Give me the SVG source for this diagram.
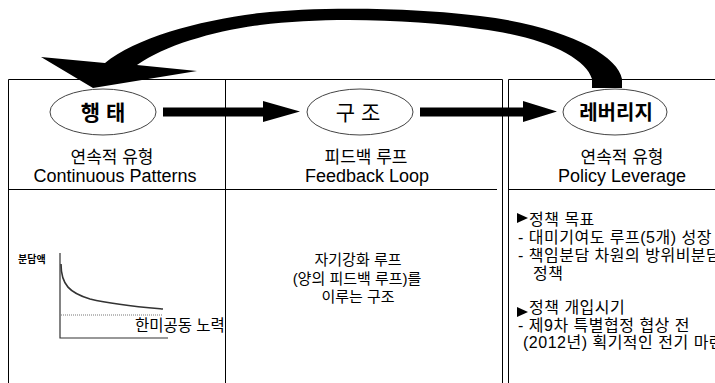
<svg xmlns="http://www.w3.org/2000/svg" width="715" height="383" viewBox="0 0 715 383">
<style>
  .ln { stroke: #000; stroke-width: 1; fill: none; }
  .ell { fill: #fff; stroke: #444; stroke-width: 1; }
  .t { font-family: "Liberation Sans", "Noto Sans CJK KR", sans-serif; fill: #000; }
  .c { text-anchor: middle; }
  .ko { font-size: 17px; }
  .en { font-size: 18px; }
  .body { font-size: 15px; }
  .pol { font-size: 16px; letter-spacing: 0.5px; }
  .node { font-size: 21px; }
  .b { font-weight: bold; }
  .arrow { fill: #000; stroke: none; }
</style>
<rect width="715" height="383" fill="#fff"/>

<g id="table">
  <polyline class="ln" points="8.5,383 8.5,79.5 502.5,79.5 502.5,383"/>
  <line class="ln" x1="225.5" y1="79.5" x2="225.5" y2="383"/>
  <line class="ln" x1="8.5" y1="189.5" x2="497" y2="189.5"/>
  <polyline class="ln" points="508.5,383 508.5,79.5 715,79.5"/>
  <line class="ln" x1="508.5" y1="189.5" x2="715" y2="189.5"/>
</g>

<g id="connectors">
  <path class="arrow" d="M 41 57 L 105 63 C 135 38, 200 20, 260 13 C 320 6, 420 8, 480 16 C 565 26, 618 55, 622 79 L 622 88 L 592 88 L 592 79 C 586 58, 545 37, 480 29 C 420 20, 330 16, 260 25 C 215 31, 165 45, 137 65 L 197 71 L 93 88 Z"/>
  <polygon class="arrow" points="163,107.5 263,107.5 263,101 300,111.5 263,122 263,116.5 163,116.5"/>
  <polygon class="arrow" points="420,107.5 523,107.5 523,101 557,111.5 523,122 523,116.5 420,116.5"/>
</g>

<g id="node-behavior">
  <ellipse class="ell" cx="103" cy="112" rx="53" ry="23"/>
  <text class="t c node b" x="103" y="120">행 태</text>
  <text class="t c ko" x="112" y="163">연속적 유형</text>
  <text class="t c en" x="115" y="182">Continuous Patterns</text>
</g>

<g id="node-structure">
  <ellipse class="ell" cx="360" cy="112" rx="53" ry="23"/>
  <text class="t c node" x="358" y="120">구 조</text>
  <text class="t c ko" x="366" y="163">피드백 루프</text>
  <text class="t c en" x="367" y="182">Feedback Loop</text>
</g>

<g id="node-leverage">
  <ellipse class="ell" cx="615" cy="112" rx="52" ry="23"/>
  <text class="t c b" x="616" y="120" font-size="20">레버리지</text>
  <text class="t c ko" x="622" y="163">연속적 유형</text>
  <text class="t c en" x="622" y="182">Policy Leverage</text>
</g>

<g id="cell-chart">
  <text class="t b" x="18" y="263" font-size="10">분담액</text>
  <polyline fill="none" stroke="#333" stroke-width="1.2" points="60,253 60,338 168,338"/>
  <path d="M 61 264 C 61 285, 70 293, 90 299 C 115 305, 140 307, 163 309" fill="none" stroke="#333" stroke-width="1.6"/>
  <line x1="61" y1="315" x2="163" y2="315" stroke="#777" stroke-width="1" stroke-dasharray="1,1"/>
  <text class="t" x="135" y="331" font-size="15.5">한미공동 노력</text>
</g>

<g id="cell-structure">
  <text class="t c body" x="358" y="265">자기강화 루프</text>
  <text class="t c body" x="357" y="284">(양의 피드백 루프)를</text>
  <text class="t c body" x="358" y="302">이루는 구조</text>
</g>

<g id="cell-policy">
  <polygon points="517,213 528,218 517,223" fill="#000"/>
  <text class="t pol" x="529" y="225">정책 목표</text>
  <text class="t pol" x="518" y="243">- 대미기여도 루프(5개) 성장</text>
  <text class="t pol" x="518" y="261">- 책임분담 차원의 방위비분담</text>
  <text class="t pol" x="533" y="279">정책</text>
  <polygon points="517,307 528,312 517,317" fill="#000"/>
  <text class="t pol" x="529" y="313">정책 개입시기</text>
  <text class="t pol" x="518" y="331">- 제9차 특별협정 협상 전</text>
  <text class="t pol" x="523" y="348">(2012년) 획기적인 전기 마련</text>
</g>
</svg>
